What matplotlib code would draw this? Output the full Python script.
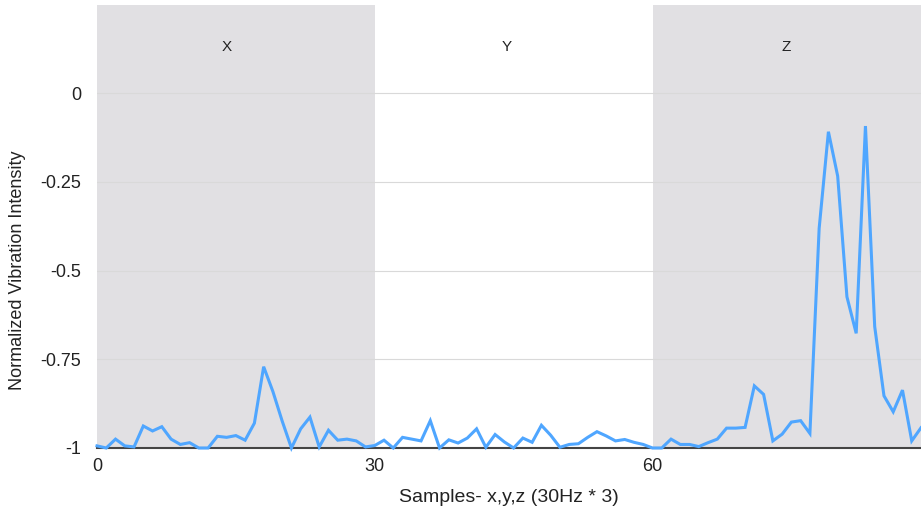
import matplotlib
matplotlib.use("Agg")
import matplotlib.pyplot as plt
import numpy as np

# Data
values_x = [-0.994, -1.0, -0.975, -0.994, -0.997, -0.938, -0.952, -0.94, -0.975, -0.99,
            -0.985, -1.0, -1.0, -0.967, -0.97, -0.965, -0.978, -0.93, -0.771, -0.841,
            -0.924, -1.0, -0.946, -0.913, -0.997, -0.95, -0.978, -0.975, -0.98, -0.997]
values_y = [-0.993, -0.978, -1.0, -0.97, -0.975, -0.98, -0.923, -1.0, -0.977, -0.986,
            -0.972, -0.946, -0.998, -0.962, -0.983, -1.0, -0.972, -0.984, -0.936, -0.964,
            -0.998, -0.99, -0.988, -0.97, -0.954, -0.966, -0.98, -0.976, -0.984, -0.99]
values_z = [-1.0, -1.0, -0.975, -0.99, -0.99, -0.996, -0.985, -0.975, -0.944, -0.944,
            -0.942, -0.825, -0.849, -0.98, -0.961, -0.927, -0.923, -0.959, -0.381, -0.109,
            -0.234, -0.574, -0.677, -0.093, -0.658, -0.853, -0.898, -0.837, -0.98, -0.943]
values = values_x + values_y + values_z
samples = list(range(len(values)))

region_labels = ["X", "Y", "Z"]
region_spans = [(0, 30), (30, 60), (60, 89)]
region_shaded = [True, False, True]
label_pos = [14.0, 44.2, 74.4]

yticks = [0, -0.25, -0.5, -0.75, -1]
ytick_labels = ["0", "-0.25", "-0.5", "-0.75", "-1"]
xticks = [0, 30, 60]

plt.rcParams['font.family'] = ['Liberation Sans', 'DejaVu Sans']

fig = plt.figure(figsize=(9.21, 5.16), dpi=100)
ax = fig.add_axes([97/921, 1 - 448/516, 1 - 97/921, (448 - 5)/516])

ax.set_xlim(0, 89)
ax.set_ylim(-1, 0.248)

for (a, b), shaded in zip(region_spans, region_shaded):
    if shaded:
        ax.axvspan(a, b, color="#e1e0e3", zorder=0, lw=0)

for lab, xp in zip(region_labels, label_pos):
    ax.text(xp, 0.13, lab, ha="center", va="center", fontsize=11, color="#222222")

ax.set_yticks(yticks)
ax.set_yticklabels(ytick_labels)
ax.set_xticks(xticks)
ax.grid(axis="y", color="#d9d9d9", lw=0.8, zorder=1)
ax.set_axisbelow(True)

ax.plot(samples, values, color="#4fa6ff", lw=2.2, zorder=3, clip_on=False, solid_joinstyle="miter")

for s in ["top", "right", "left"]:
    ax.spines[s].set_visible(False)
ax.spines["bottom"].set_color("#444444")
ax.spines["bottom"].set_linewidth(1.5)
ax.spines["bottom"].set_zorder(2)

ax.tick_params(axis="both", length=0, labelsize=13, colors="#222222")
ax.tick_params(axis="y", pad=11.5)
ax.tick_params(axis="x", pad=7)

ax.set_xlabel("Samples- x,y,z (30Hz * 3)", fontsize=14, color="#222222", labelpad=10)
ax.set_ylabel("Normalized Vibration Intensity", fontsize=13, color="#222222")
ax.yaxis.label.set_va("center")
ax.yaxis.set_label_coords(-0.097, 0.402)

fig.savefig("out.png", dpi=100)
